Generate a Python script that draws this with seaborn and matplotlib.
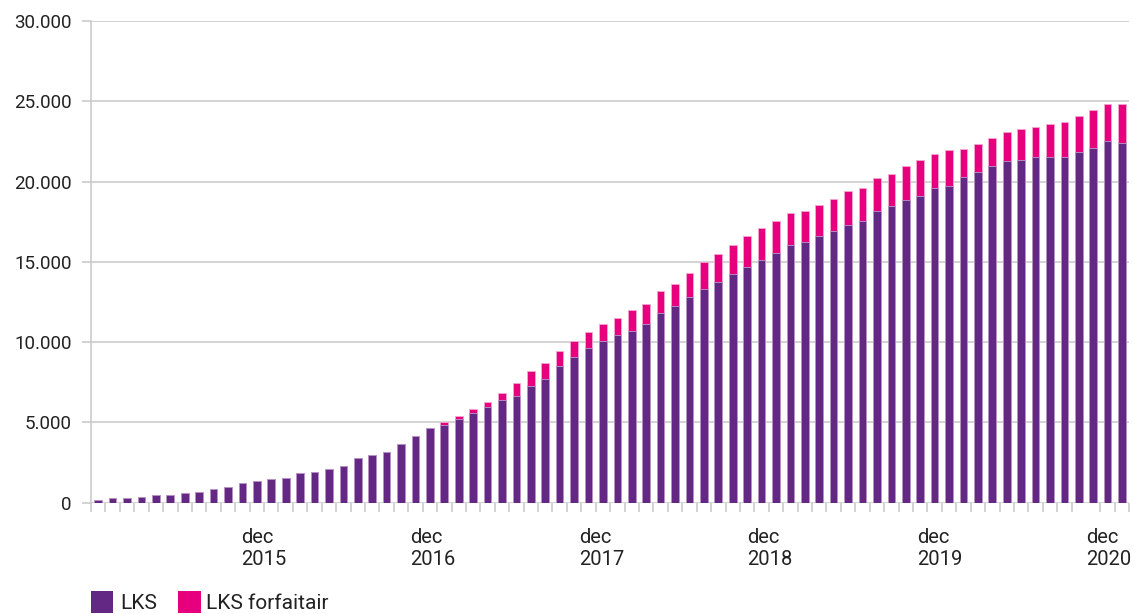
import matplotlib
matplotlib.use("Agg")
import matplotlib.pyplot as plt
import seaborn as sns
import pandas as pd
import numpy as np
from matplotlib.patches import Rectangle

# ---- data ----
periods = [f"{y}-{m:02d}" for y, m in
           [(2015, m) for m in range(2, 13)] +
           [(y, m) for y in range(2016, 2021) for m in range(1, 13)] +
           [(2021, 1)]]

lks = [190, 290, 290, 375, 475, 480, 580, 665, 850, 955,
       1245, 1350, 1455, 1540, 1830, 1930, 2115, 2300, 2800, 2990,
       3175, 3650, 4150, 4650, 4815, 5210, 5600, 5975, 6370, 6660,
       7245, 7715, 8490, 9065, 9645, 10045, 10415, 10705, 11100, 11785,
       12260, 12780, 13315, 13715, 14215, 14685, 15085, 15555, 16035, 16240,
       16625, 16905, 17300, 17575, 18160, 18455, 18855, 19130, 19615, 19725,
       20285, 20595, 20995, 21255, 21360, 21555, 21555, 21555, 21855, 22115,
       22525, 22425]

lks_forfaitair = [0, 0, 0, 0, 0, 0, 0, 0, 0, 0,
                  0, 0, 0, 0, 0, 0, 0, 0, 0, 0,
                  0, 0, 0, 0, 205, 185, 210, 290, 475, 770,
                  950, 980, 970, 980, 980, 1055, 1080, 1270, 1265, 1370,
                  1370, 1515, 1665, 1760, 1840, 1945, 2010, 2020, 2035, 1930,
                  1930, 2035, 2115, 2035, 2035, 2020, 2115, 2225, 2125, 2215,
                  1770, 1725, 1720, 1855, 1940, 1845, 2030, 2135, 2210, 2340,
                  2330, 2430]

series_names = ["LKS", "LKS forfaitair"]

y_ticks = [0, 5000, 10000, 15000, 20000, 25000, 30000]
y_tick_labels = ["0", "5.000", "10.000", "15.000", "20.000", "25.000", "30.000"]

x_label_pos = [9.90, 21.62, 33.36, 44.97, 56.76, 68.50]
x_labels = ["dec\n2015", "dec\n2016", "dec\n2017", "dec\n2018", "dec\n2019", "dec\n2020"]

# ---- styling ----
PURPLE = "#632884"
PINK = "#E6007E"
GRID = "#c8c8c8"
TEXT = "#222222"
W, H = 1135, 614

sns.set_theme(style="white")
plt.rcParams["font.family"] = ["Roboto", "DejaVu Sans"]

df = pd.DataFrame({"period": periods, "lks": lks, "forf": lks_forfaitair})
df["total"] = df["lks"] + df["forf"]

fig = plt.figure(figsize=(W / 100, H / 100), dpi=100)
ax = fig.add_axes([91 / W, 1 - 502.7 / H, (1129.3 - 91) / W, (502.7 - 21) / H])

sns.barplot(data=df, x="period", y="total", color=PINK, width=0.53,
            saturation=1, edgecolor="#f7a6cf", linewidth=0.6, ax=ax)
sns.barplot(data=df, x="period", y="lks", color=PURPLE, width=0.53,
            saturation=1, edgecolor="#b89ac8", linewidth=0.6, ax=ax)

n = len(periods)
ax.set_xlim(-0.5, n - 0.5)
ax.set_ylim(0, 30000)

ax.set_yticks(y_ticks)
ax.set_yticklabels(y_tick_labels, fontsize=13.5, color=TEXT)
ax.yaxis.grid(True, color=GRID, linewidth=1.1)
ax.set_axisbelow(True)
ax.tick_params(axis="y", length=6.5, color=GRID, width=1.1, pad=7.5, left=True)

ax.set_xticks(x_label_pos)
ax.set_xticklabels(x_labels, fontsize=14.5, color=TEXT, ha="left")
ax.tick_params(axis="x", which="major", length=0, pad=18)
ax.set_xticks(np.arange(-0.5, n, 1.0), minor=True)
ax.tick_params(axis="x", which="minor", length=6.5, color=GRID, width=1.1, bottom=True)

for s in ["top", "right", "bottom"]:
    ax.spines[s].set_visible(False)
ax.spines["left"].set_color(GRID)
ax.spines["left"].set_linewidth(1.1)
ax.set_xlabel("")
ax.set_ylabel("")

# legend (bottom-left)
legend_items = [(series_names[0], PURPLE, 91, 120.5), (series_names[1], PINK, 178.3, 205.5)]
for label, col, sx, tx in legend_items:
    fig.patches.append(Rectangle((sx / W, 1 - 613 / H), 22.3 / W, 22 / H,
                                 transform=fig.transFigure, facecolor=col,
                                 edgecolor="none", figure=fig))
    fig.text(tx / W, 1 - 609 / H, label, fontsize=15, color=TEXT,
             ha="left", va="baseline")

fig.savefig("out.png", dpi=100)
